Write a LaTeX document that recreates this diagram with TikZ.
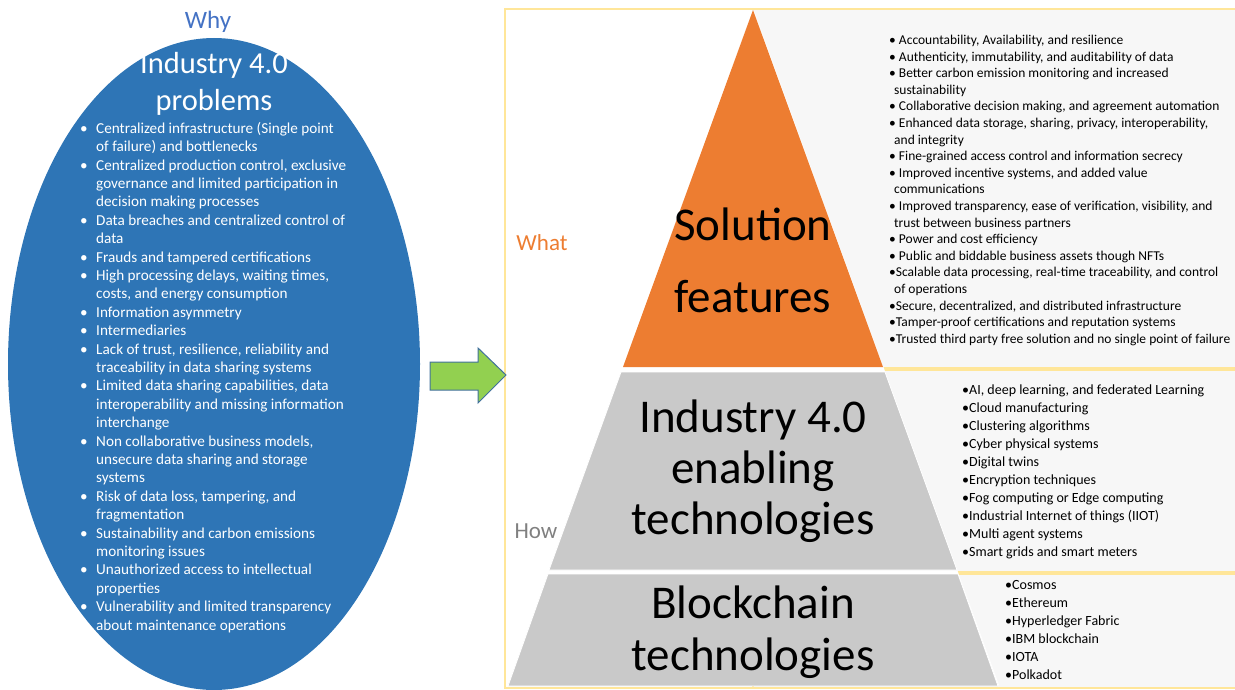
\documentclass[tikz,border=0pt]{standalone}
\usepackage{fontspec}
\setmainfont{Carlito}
\usetikzlibrary{shapes.geometric}
\definecolor{blue1}{RGB}{46,117,182}
\definecolor{blue2}{RGB}{68,114,196}
\definecolor{orange1}{RGB}{237,125,49}
\definecolor{gray1}{RGB}{201,201,201}
\definecolor{gray2}{RGB}{247,247,247}
\definecolor{gray3}{RGB}{128,128,128}
\definecolor{yellow1}{RGB}{255,230,153}
\definecolor{green1}{RGB}{146,208,80}
\definecolor{edge1}{RGB}{65,113,156}
\newcommand{\probbul}{\makebox[16pt][l]{\textbullet}}
\newcommand{\probcont}{\hspace*{16pt}}

\begin{document}
\begin{tikzpicture}[x=1pt, y=-1pt]
\tikzstyle{level} = [fill, draw=white, line width=0.8pt];
\tikzstyle{listbox} = [fill=gray2, draw=yellow1, line width=1.5pt];
\tikzstyle{biglabel} = [align=center, inner sep=0pt, text=black];
\tikzstyle{listtext} = [align=left, anchor=north west, inner sep=0pt, text=black];
\tikzstyle{side} = [inner sep=0pt, font=\fontsize{23}{28}\selectfont];

\useasboundingbox (0,0) rectangle (1235,690);

% frame and text boxes
\draw [listbox] (753,9) rectangle (1236,368);
\draw [listbox] (753,370) rectangle (1236,572);
\draw [listbox] (753,574) rectangle (1236,688);

% pyramid
\fill [white] (753,8) -- (999,685) -- (507,685) -- cycle;
\fill [orange1] (753,10) -- (883,367) -- (623,367) -- cycle;
\draw [level, gray1, draw=white] (621,372) -- (885,372) -- (957,570) -- (549,570) -- cycle;
\draw [level, gray1, draw=white] (548,574) -- (958,574) -- (998,686) -- (508,686) -- cycle;
\draw [yellow1, line width=1.5pt] (505,9) rectangle (1236,688);

\node [biglabel, font=\fontsize{47}{72}\selectfont] (sol) at (753,260) {Solution\\features};
\node [biglabel, font=\fontsize{47}{51}\selectfont] (ind) at (753,471) {Industry 4.0\\enabling\\technologies};
\node [biglabel, font=\fontsize{47}{52}\selectfont] (blk) at (753,632) {Blockchain\\technologies};

\node [side, text=orange1] (what) at (542,243) {What};
\node [side, text=gray3] (how) at (536,531) {How};

% feature lists
\node [listtext, font=\fontsize{13.5}{16.6}\selectfont] (feat) at (889,35) {%
\textbullet{} Accountability, Availability, and resilience\\
\textbullet{} Authenticity, immutability, and auditability of data\\
\textbullet{} Better carbon emission monitoring and increased\\
\hspace*{5pt}sustainability\\
\textbullet{} Collaborative decision making, and agreement automation\\
\textbullet{} Enhanced data storage, sharing, privacy, interoperability,\\
\hspace*{5pt}and integrity\\
\textbullet{} Fine-grained access control and information secrecy\\
\textbullet{} Improved incentive systems, and added value\\
\hspace*{5pt}communications\\
\textbullet{} Improved transparency, ease of verification, visibility, and\\
\hspace*{5pt}trust between business partners\\
\textbullet{} Power and cost efficiency\\
\textbullet{} Public and biddable business assets though NFTs\\
\textbullet Scalable data processing, real-time traceability, and control\\
\hspace*{5pt}of operations\\
\textbullet Secure, decentralized, and distributed infrastructure\\
\textbullet Tamper-proof certifications and reputation systems\\
\textbullet Trusted third party free solution and no single point of failure};

\node [listtext, font=\fontsize{14}{18}\selectfont] (tech) at (962,385) {%
\textbullet AI, deep learning, and federated Learning\\
\textbullet Cloud manufacturing\\
\textbullet Clustering algorithms\\
\textbullet Cyber physical systems\\
\textbullet Digital twins\\
\textbullet Encryption techniques\\
\textbullet Fog computing or Edge computing\\
\textbullet Industrial Internet of things (IIOT)\\
\textbullet Multi agent systems\\
\textbullet Smart grids and smart meters};

\node [listtext, font=\fontsize{14}{18}\selectfont] (chains) at (1005,580) {%
\textbullet Cosmos\\
\textbullet Ethereum\\
\textbullet Hyperledger Fabric\\
\textbullet IBM blockchain\\
\textbullet IOTA\\
\textbullet Polkadot};

% problems
\node [ellipse, fill=blue1, minimum width=412pt, minimum height=652pt, inner sep=0pt] (prob) at (214,364) {};
\node [side, text=blue2, font=\fontsize{25}{30}\selectfont] (why) at (208,22) {Why};
\node [biglabel, text=white, font=\fontsize{30.5}{37}\selectfont] (probtitle) at (214,84) {Industry 4.0\\problems};
\node [listtext, text=white, font=\fontsize{15.2}{18.4}\selectfont] (problist) at (80,122) {%
\probbul Centralized infrastructure (Single point\\
\probcont of failure) and bottlenecks\\
\probbul Centralized production control, exclusive\\
\probcont governance and limited participation in\\
\probcont decision making processes\\
\probbul Data breaches and centralized control of\\
\probcont data\\
\probbul Frauds and tampered certifications\\
\probbul High processing delays, waiting times,\\
\probcont costs, and energy consumption\\
\probbul Information asymmetry\\
\probbul Intermediaries\\
\probbul Lack of trust, resilience, reliability and\\
\probcont traceability in data sharing systems\\
\probbul Limited data sharing capabilities, data\\
\probcont interoperability and missing information\\
\probcont interchange\\
\probbul Non collaborative business models,\\
\probcont unsecure data sharing and storage\\
\probcont systems\\
\probbul Risk of data loss, tampering, and\\
\probcont fragmentation\\
\probbul Sustainability and carbon emissions\\
\probcont monitoring issues\\
\probbul Unauthorized access to intellectual\\
\probcont properties\\
\probbul Vulnerability and limited transparency\\
\probcont about maintenance operations};

% arrow
\draw [fill=green1, draw=edge1, line width=1pt] (430,362) -- (478,362) -- (478,348) -- (506,375) -- (478,403) -- (478,390) -- (430,390) -- cycle;
\end{tikzpicture}
\end{document}
